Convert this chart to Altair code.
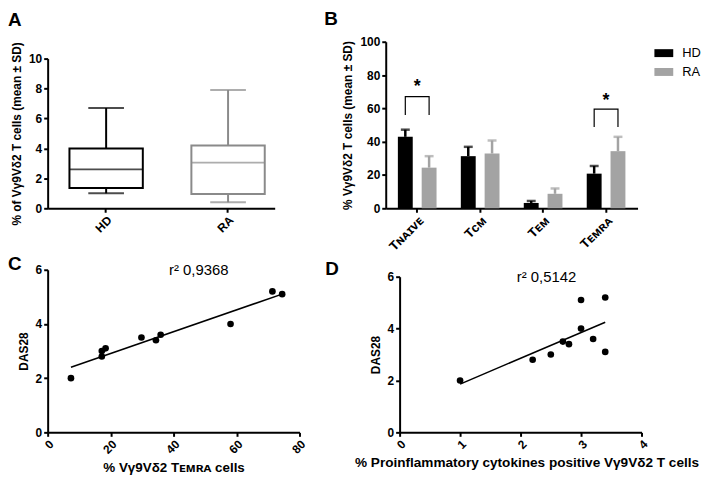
import altair as alt
import pandas as pd

FONT = "Liberation Sans"

# ---------------- Panel A: box plots ----------------
a_group = ["HD", "RA"]
a_min = [1.0, 0.4]
a_q1 = [1.35, 0.95]
a_median = [2.6, 3.05]
a_q3 = [4.0, 4.2]
a_max = [6.7, 7.9]
a_colors = ["#000000", "#8a8a8a"]

# ---------------- Panel B: bars (mean ± SD) ----------------
b_subset = ["Tɴᴀɪᴠᴇ", "Tᴄᴍ", "Tᴇᴍ", "Tᴇᴍʀᴀ"]
b_series = ["HD", "RA"]
b_hd_mean = [42.9, 31.3, 3.2, 20.8]
b_hd_sd = [4.3, 5.6, 1.2, 4.6]
b_ra_mean = [24.4, 32.9, 8.7, 34.3]
b_ra_sd = [6.9, 7.8, 3.2, 8.6]
b_colors = ["#000000", "#a3a3a3"]
b_sig_subset = ["Tɴᴀɪᴠᴇ", "Tᴇᴍʀᴀ"]
b_sig_leg = [56.0, 48.8]
b_sig_top = [67.0, 59.5]
b_sig_star = [72.5, 64.5]

# ---------------- Panel C ----------------
c_temra = [7.4, 17.2, 17.2, 18.4, 29.8, 34.4, 35.9, 58.1, 71.4, 74.5]
c_das28 = [2.0, 2.8, 3.0, 3.1, 3.5, 3.4, 3.6, 4.0, 5.2, 5.1]
c_r2 = ["r² 0,9368"]
c_r2_pos = [48.0, 6.0]

# ---------------- Panel D ----------------
d_cyto = [1.0, 2.2, 2.5, 2.7, 2.8, 3.0, 3.0, 3.2, 3.4, 3.4]
d_das28 = [2.0, 2.8, 3.0, 3.5, 3.4, 5.1, 4.0, 3.6, 5.2, 3.1]
d_r2 = ["r² 0,5142"]
d_r2_pos = [2.43, 6.0]


def letter(t, dx, offset):
    return alt.TitleParams(text=t, anchor="start", frame="group", dx=dx, offset=offset,
                           fontSize=19, font=FONT, fontWeight="bold", color="black")


def by_group(field, values, colors):
    return alt.condition(alt.datum[field] == values[0], alt.value(colors[0]), alt.value(colors[1]))


# ---- A ----
dfa = pd.DataFrame({"group": a_group, "min": a_min, "q1": a_q1, "median": a_median,
                    "q3": a_q3, "max": a_max})
ax = alt.X("group:N", sort=a_group, title=None,
           scale=alt.Scale(paddingInner=0.3, paddingOuter=0.081, align=0.8),
           axis=alt.Axis(labelAngle=-45))
ay_scale = alt.Scale(domain=[0, 10], range=[168, 17], nice=False)
ay_axis = alt.Axis(values=[0, 2, 4, 6, 8, 10], title="% of Vγ9Vδ2 T cells (mean ± SD)")
a_col = by_group("group", a_group, a_colors)

a_whisk = alt.Chart(dfa).mark_rule(strokeWidth=2).encode(
    x=ax, y=alt.Y("min:Q", scale=ay_scale, axis=ay_axis), y2="max:Q", stroke=a_col)
a_box = alt.Chart(dfa).mark_bar(size=74, fill="white", strokeWidth=2).encode(
    x=ax, y=alt.Y("q1:Q", scale=ay_scale, axis=ay_axis), y2="q3:Q", stroke=a_col)
a_med = alt.Chart(dfa).mark_tick(size=74, thickness=2).encode(
    x=ax, y=alt.Y("median:Q", scale=ay_scale, axis=ay_axis), fill=a_col)
a_caps = alt.Chart(dfa).transform_fold(["min", "max"], as_=["k", "v"]).mark_tick(
    size=36, thickness=2).encode(
    x=ax, y=alt.Y("v:Q", scale=ay_scale, axis=ay_axis), fill=a_col)
A = alt.layer(a_whisk, a_box, a_med, a_caps).properties(
    width=229, height=168, title=letter("A", -40, 12))

# ---- B ----
rows = []
for i, s in enumerate(b_subset):
    rows.append({"subset": s, "series": "HD", "mean": b_hd_mean[i], "upper": b_hd_mean[i] + b_hd_sd[i]})
    rows.append({"subset": s, "series": "RA", "mean": b_ra_mean[i], "upper": b_ra_mean[i] + b_ra_sd[i]})
dfb = pd.DataFrame(rows)

bx = alt.X("subset:N", sort=b_subset, title=None,
           scale=alt.Scale(paddingInner=0, paddingOuter=0),
           axis=alt.Axis(labelAngle=-45, labelFontSize=13))
bxo = alt.XOffset("series:N", sort=b_series,
                  scale=alt.Scale(domain=b_series, paddingInner=0.375, paddingOuter=0.51))
by_scale = alt.Scale(domain=[0, 100], nice=False)
by_axis = alt.Axis(values=[0, 20, 40, 60, 80, 100], title="% Vγ9Vδ2 T cells (mean ± SD)")
b_col = by_group("series", b_series, b_colors)

b_bars = alt.Chart(dfb).mark_bar().encode(
    x=bx, xOffset=bxo, y=alt.Y("mean:Q", scale=by_scale, axis=by_axis),
    color=alt.Color("series:N", scale=alt.Scale(domain=b_series, range=b_colors),
                    legend=alt.Legend(title=None, orient="none", legendX=612, legendY=2,
                                      symbolType="M-1,-0.42H1V0.42H-1Z", symbolSize=361,
                                      symbolStrokeWidth=0, labelFontSize=13, labelFont=FONT,
                                      labelColor="black", labelOffset=9, padding=0,
                                      rowPadding=2)))
b_err = alt.Chart(dfb).mark_rule(strokeWidth=2.5).encode(
    x=bx, xOffset=bxo, y=alt.Y("mean:Q", scale=by_scale, axis=by_axis), y2="upper:Q",
    stroke=b_col)
b_caps = alt.Chart(dfb).mark_tick(size=9, thickness=2.5).encode(
    x=bx, xOffset=bxo, y=alt.Y("upper:Q", scale=by_scale, axis=by_axis), fill=b_col)

br = []
for i, s in enumerate(b_sig_subset):
    pts = [("HD", b_sig_leg[i]), ("HD", b_sig_top[i]), ("RA", b_sig_top[i]), ("RA", b_sig_leg[i])]
    for k, (ser, v) in enumerate(pts):
        br.append({"subset": s, "series": ser, "v": v, "k": k, "bracket": i})
dfbr = pd.DataFrame(br)
b_brk = alt.Chart(dfbr).mark_line(color="black", strokeWidth=1.2).encode(
    x=bx, xOffset=bxo, y=alt.Y("v:Q", scale=by_scale, axis=by_axis),
    order="k:Q", detail="bracket:N")
dfstar = pd.DataFrame({"subset": b_sig_subset, "star": b_sig_star})
b_star = alt.Chart(dfstar).mark_text(text="*", fontSize=18, fontWeight="bold", font=FONT,
                                     color="black").encode(
    x=bx, y=alt.Y("star:Q", scale=by_scale, axis=by_axis))
B = alt.layer(b_bars, b_err, b_caps, b_brk, b_star).properties(
    width=254, height=168, title=letter("B", -62, 7))

# ---- C ----
dfc = pd.DataFrame({"x": c_temra, "y": c_das28})
cx = alt.X("x:Q", scale=alt.Scale(domain=[0, 80], nice=False),
           axis=alt.Axis(values=[0, 20, 40, 60, 80], labelAngle=-45,
                         title="% Vγ9Vδ2 Tᴇᴍʀᴀ cells", titleFontSize=13.5))
cy = alt.Y("y:Q", scale=alt.Scale(domain=[0, 6], nice=False),
           axis=alt.Axis(values=[0, 2, 4, 6], title="DAS28"))
c_pts = alt.Chart(dfc).mark_circle(size=45, color="black", opacity=1).encode(x=cx, y=cy)
c_line = alt.Chart(dfc).transform_regression("x", "y").mark_line(
    color="black", strokeWidth=1.5).encode(x=cx, y=cy)
c_txt = alt.Chart(pd.DataFrame({"x": [c_r2_pos[0]], "y": [c_r2_pos[1]], "t": c_r2})).mark_text(
    fontSize=15, font=FONT, color="black").encode(x=cx, y=cy, text="t:N")
C = alt.layer(c_line, c_pts, c_txt).properties(
    width=254, height=164, title=letter("C", -40, -11))

# ---- D ----
dfd = pd.DataFrame({"x": d_cyto, "y": d_das28})
dx_ = alt.X("x:Q", scale=alt.Scale(domain=[0, 4], range=[14, 258], nice=False),
            axis=alt.Axis(values=[0, 1, 2, 3, 4], labelAngle=-45,
                          title="% Proinflammatory cytokines positive Vγ9Vδ2 T cells",
                          titleFontSize=13.7, titleX=142))
dy_ = alt.Y("y:Q", scale=alt.Scale(domain=[0, 6], range=[164, 7], nice=False),
            axis=alt.Axis(values=[0, 2, 4, 6], title="DAS28", offset=-14))
d_pts = alt.Chart(dfd).mark_circle(size=45, color="black", opacity=1).encode(x=dx_, y=dy_)
d_line = alt.Chart(dfd).transform_regression("x", "y").mark_line(
    color="black", strokeWidth=1.5).encode(x=dx_, y=dy_)
d_txt = alt.Chart(pd.DataFrame({"x": [d_r2_pos[0]], "y": [d_r2_pos[1]], "t": d_r2})).mark_text(
    fontSize=15, font=FONT, color="black").encode(x=dx_, y=dy_, text="t:N")
D = alt.layer(d_line, d_pts, d_txt).properties(
    width=258, height=164, title=letter("D", -61, -9))

chart = alt.concat(A, B, C, D, columns=2, spacing=alt.RowColnumber(row=62, column=87),
                   bounds="flush", align="none").properties(
    padding=0, background="white"
).configure_view(stroke=None).configure_axis(
    domainColor="black", domainWidth=2, tickColor="black", tickWidth=2, tickSize=4,
    labelPadding=2, labelFont=FONT, labelFontSize=12, labelFontWeight="bold",
    labelColor="black", titleFont=FONT, titleFontSize=12, titleFontWeight="bold",
    titleColor="black", titlePadding=5, grid=False)

chart.save("out.html", embed_options={"renderer": "svg", "actions": False})
